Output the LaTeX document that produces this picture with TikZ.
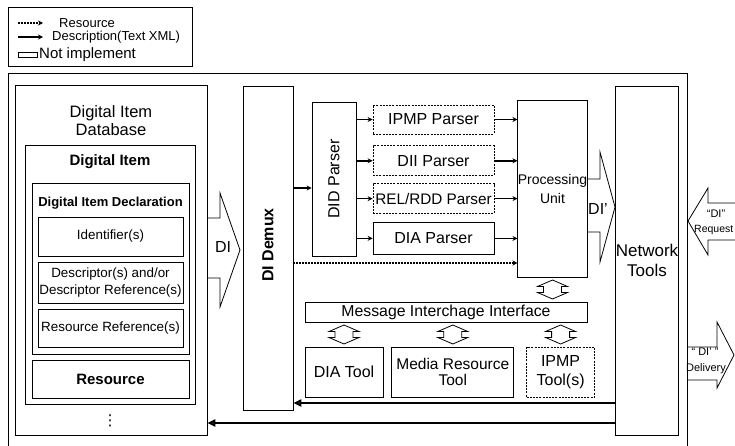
\documentclass[tikz,border=0pt]{standalone}
\usepackage{fontspec}
\setmainfont{Liberation Sans}
\newfontfamily\symfont{DejaVu Sans}
\usepackage{tikz}
\usetikzlibrary{positioning,arrows.meta,calc}
\tikzset{
  node-box/.style={draw,line width=0.8pt,inner sep=0pt,align=center},
  node-nimpl/.style={node-box,dash pattern=on 2pt off 1.2pt},
  node-text/.style={inner sep=0pt,align=center},
  arrow-desc/.style={-{Stealth[length=5pt,width=5pt]},line width=1.5pt},
  arrow-res/.style={arrow-desc,dash pattern=on 1.5pt off 1.5pt},
  arrow-back/.style={-{Triangle[open,length=8pt,width=7pt]},line width=2pt},
  arrow-block/.style={draw,line width=0.8pt,line join=miter},
  pics/dbl-arrow/.style={code={
    \draw[arrow-block] (0,-9.5) -- (15,-3) -- (9,-3) -- (9,3) -- (15,3) -- (0,9.5)
      -- (-15,3) -- (-9,3) -- (-9,-3) -- (-15,-3) -- cycle;}},
}

\begin{document}
\begin{tikzpicture}[x=1pt,y=-1pt]
  \useasboundingbox (0,0) rectangle (735,446);

  % legend
  \node[node-box,minimum width=184pt,minimum height=59pt] (legend) at (100,36.5) {};
  \coordinate (leg-res-a) at (18,23);
  \coordinate (leg-res-b) at (43,23);
  \coordinate (leg-desc-a) at (18,37);
  \coordinate (leg-desc-b) at (43,37);
  \draw[arrow-res] (leg-res-a) -- (leg-res-b);
  \draw[arrow-desc] (leg-desc-a) -- (leg-desc-b);
  \node[node-box,minimum width=19pt,minimum height=5pt] (leg-nimpl) at (27.5,54.5) {};
  \node[node-text,anchor=west,font=\fontsize{13}{15}\selectfont] (leg-res-t) at (59,23) {Resource};
  \node[node-text,anchor=west,font=\fontsize{13}{15}\selectfont] (leg-desc-t) at (52,37) {Description(Text XML)};
  \node[node-text,anchor=west,font=\fontsize{15}{17}\selectfont] (leg-nimpl-t) at (39,55) {Not implement};

  % outer frame, its bottom edge lies below the page
  \node[node-box,minimum width=679pt,minimum height=380pt] (frame) at (347.5,263) {};

  % digital item database
  \node[node-box,minimum width=192pt,minimum height=350pt] (db) at (111,260) {};
  \node[node-text,font=\fontsize{16.5}{18}\selectfont] (db-t) at (111,121) {Digital Item\\Database};
  \node[node-box,minimum width=170pt,minimum height=259pt] (ditem) at (110,274.5) {};
  \node[node-text,font=\bfseries\fontsize{15}{17}\selectfont] (ditem-t) at (110,162) {Digital Item};
  \node[node-box,minimum width=157pt,minimum height=171pt] (did) at (110.5,268.5) {};
  \node[node-text,font=\bfseries\fontsize{13}{15}\selectfont] (did-t) at (110.5,203) {Digital Item Declaration};
  \node[node-box,minimum width=145pt,minimum height=39pt,font=\fontsize{13.4}{17}\selectfont] (ident) at (110.5,236.5) {Identifier(s)};
  \node[node-box,minimum width=145pt,minimum height=41pt,font=\fontsize{13.4}{17}\selectfont] (descr) at (110.5,282.5) {Descriptor(s) and/or\\Descriptor Reference(s)};
  \node[node-box,minimum width=145pt,minimum height=38pt,font=\fontsize{13.4}{17}\selectfont] (resref) at (110.5,328) {Resource Reference(s)};
  \node[node-box,minimum width=157pt,minimum height=38pt,font=\bfseries\fontsize{15}{17}\selectfont] (res) at (110.5,379) {Resource};
  \node[node-text,font=\symfont\fontsize{15}{17}\selectfont] (db-more) at (110,421) {⋮};

  % demux, parsers, processing
  \node[node-box,minimum width=50pt,minimum height=324pt] (demux) at (268,248) {};
  \node[node-text,rotate=90,font=\bfseries\fontsize{16}{18}\selectfont] (demux-t) at (268,245) {DI Demux};
  \node[node-box,minimum width=44pt,minimum height=154pt] (didp) at (334,179) {};
  \node[node-text,rotate=90,font=\fontsize{16}{18}\selectfont] (didp-t) at (didp) {DID Parser};

  \node[node-nimpl,minimum width=121pt,minimum height=29pt,font=\fontsize{16}{18}\selectfont] (ipmpp) at (433.5,119.5) {IPMP Parser};
  \node[node-nimpl,minimum width=121pt,minimum height=30pt,font=\fontsize{16}{18}\selectfont,below=11pt of ipmpp] (diip) {DII Parser};
  \node[node-nimpl,minimum width=121pt,minimum height=30pt,font=\fontsize{15.3}{18}\selectfont,below=7pt of diip] (relp) {REL/RDD Parser};
  \node[node-box,minimum width=121pt,minimum height=32pt,font=\fontsize{16}{18}\selectfont,below=8pt of relp] (diap) {DIA Parser};

  \node[node-box,minimum width=69pt,minimum height=177pt,font=\fontsize{14}{19}\selectfont] (pu) at (552.5,188.5) {Processing\\Unit};
  \node[node-box,minimum width=62pt,minimum height=349pt,font=\fontsize{17}{20}\selectfont] (nt) at (647,260.5) {Network\\Tools};

  % tools
  \node[node-box,minimum width=282pt,minimum height=20pt,font=\fontsize{15.8}{18}\selectfont] (mii) at (446,312) {Message Interchage Interface};
  \node[node-box,minimum width=78pt,minimum height=50pt,font=\fontsize{16}{18}\selectfont] (diat) at (344,372) {DIA Tool};
  \node[node-box,minimum width=122pt,minimum height=50pt,font=\fontsize{15.5}{15.5}\selectfont,right=8pt of diat] (mrt) {Media Resource\\Tool};
  \node[node-nimpl,minimum width=68pt,minimum height=50pt,font=\fontsize{16}{19}\selectfont,right=12pt of mrt] (ipmpt) {IPMP\\Tool(s)};

  % connectors
  \coordinate (y-dd) at (0,188);
  \coordinate (y-res) at (0,263);
  \coordinate (y-back1) at (0,403);
  \coordinate (y-back2) at (0,423);
  \draw[arrow-desc] (demux.east |- y-dd) -- (didp.west |- y-dd);
  \foreach \p in {ipmpp,diip,relp,diap}{
    \draw[arrow-desc] (didp.east |- \p) -- (\p);
    \draw[arrow-desc] (\p) -- (pu.west |- \p);
  }
  \draw[arrow-res] (demux.east |- y-res) -- (pu.west |- y-res);
  \draw[arrow-back] (nt.west |- y-back1) -- (demux.east |- y-back1);
  \draw[arrow-back] (nt.west |- y-back2) -- (db.east |- y-back2);

  \pic (dbl-pu) at ($(pu.south)!.5!(pu.south |- mii.north)$) {dbl-arrow};
  \foreach \t in {diat,mrt,ipmpt}
    \pic (dbl-\t) at ($(\t.north)!.5!(\t.north |- mii.south)$) {dbl-arrow};

  % block arrows
  \draw[arrow-block] (207,218) -- (220,218) -- (220,193) -- (240,250) -- (220,307) -- (220,278) -- (207,278);
  \node[node-text,font=\fontsize{16}{18}\selectfont] (di-t) at (223,247) {DI};
  \draw[arrow-block] (587,179) -- (600,179) -- (600,152) -- (615,207) -- (600,262) -- (600,232) -- (587,232);
  \node[node-text,font=\fontsize{16}{18}\selectfont] (dip-t) at (598,209) {DI'};
  \draw[arrow-block] (736,203) -- (708,203) -- (708,188) -- (688,221) -- (708,255) -- (708,240) -- (736,240);
  \node[node-text,font=\fontsize{11}{12}\selectfont] (req-t1) at (716,214) {“DI”};
  \node[node-text,anchor=west,font=\fontsize{10.5}{12}\selectfont] (req-t2) at (694,230) {Request};
  \draw[arrow-block] (688,347) -- (717,347) -- (717,322) -- (734,355) -- (717,388) -- (717,380) -- (688,380);
  \node[node-text,font=\fontsize{11}{12}\selectfont] (dlv-t1) at (705,352) {“ DI' ”};
  \node[node-text,font=\fontsize{11}{12}\selectfont] (dlv-t2) at (706,369) {Delivery};
\end{tikzpicture}
\end{document}
